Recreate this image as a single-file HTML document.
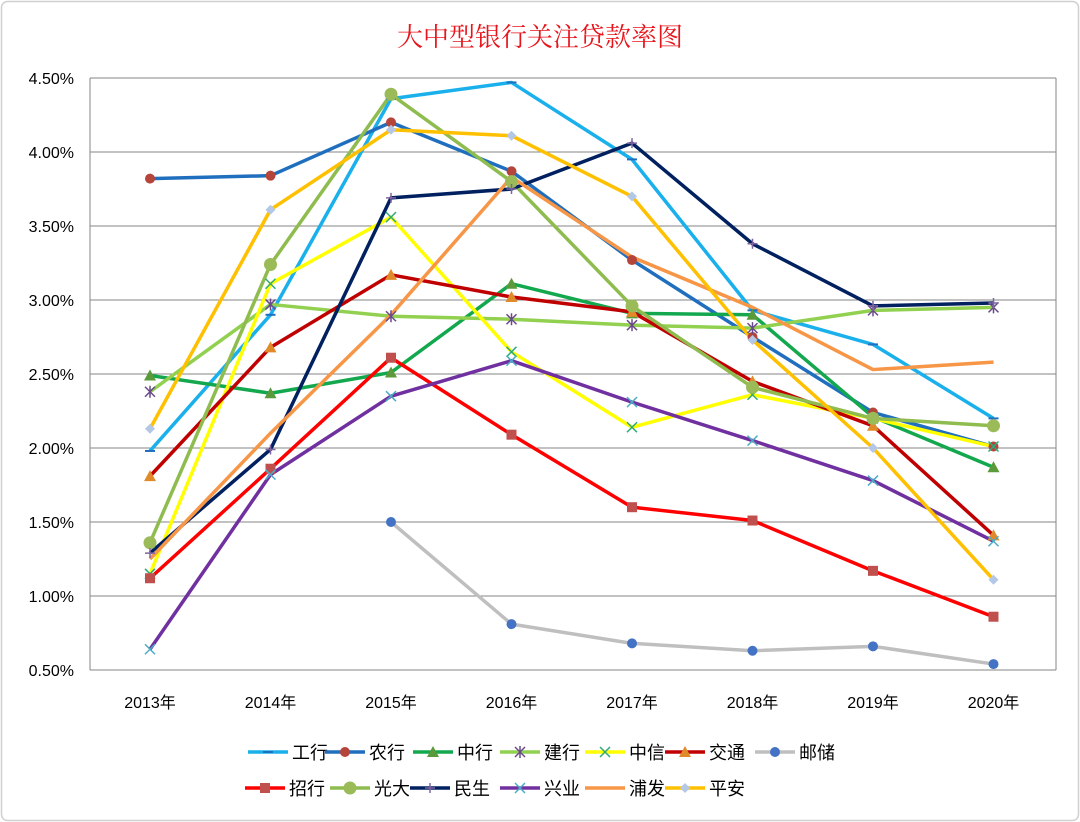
<!DOCTYPE html>
<html><head><meta charset="utf-8">
<style>
html,body{margin:0;padding:0;background:#fff;}
svg{display:block;font-family:"Liberation Sans","Noto Sans CJK SC",sans-serif;}
</style></head>
<body>
<svg id="c" width="1080" height="822" viewBox="0 0 1080 822" xmlns="http://www.w3.org/2000/svg">
<rect x="1.5" y="1.5" width="1077" height="819" rx="6" fill="#fff" stroke="#d0d0d0" stroke-width="1.5"/>
<text x="540" y="46" text-anchor="middle" font-size="26" fill="#e8141b" font-family="'Noto Serif CJK SC','Noto Sans CJK SC',serif">大中型银行关注贷款率图</text>
<g id="grid"></g>
<g id="series"></g>
<g id="legend"></g>
</svg>
<script>
var NS="http://www.w3.org/2000/svg";
function el(t,a,p,txt){var e=document.createElementNS(NS,t);for(var k in a)e.setAttribute(k,a[k]);if(txt!=null)e.textContent=txt;p.appendChild(e);return e;}
var svg=document.getElementById('c');
var grid=document.getElementById('grid'),ser=document.getElementById('series'),leg=document.getElementById('legend');
var X0=90,X1=1056;
function Y(v){return 670-(v-0.5)*148;}
var xs=[150,270.5,391,511.5,632,752.5,873,993.5];
for(var i=0;i<9;i++){var v=0.5+i*0.5,y=Y(v);
 el('line',{x1:X0,x2:X1,y1:y,y2:y,stroke:'#868686','stroke-width':1},grid);
 el('text',{x:74,y:y+6,'text-anchor':'end','font-size':16,fill:'#000'},grid,v.toFixed(2)+'%');}
el('line',{x1:X0,x2:X0,y1:78,y2:670,stroke:'#868686'},grid);
el('line',{x1:X1,x2:X1,y1:78,y2:670,stroke:'#868686'},grid);
for(var i=0;i<8;i++){el('text',{x:xs[i],y:708,'text-anchor':'middle','font-size':16,fill:'#000'},grid,(2013+i)+'年');}
var S=[
['工行','#1ab0ec','dash',[1.98,2.90,4.36,4.47,3.95,2.93,2.70,2.20]],
['农行','#1f6fbe','circ',[3.82,3.84,4.20,3.87,3.27,2.75,2.24,2.01],'#b5443b'],
['中行','#13a84e','tri',[2.49,2.37,2.51,3.11,2.91,2.90,2.21,1.87],'#5a9a3a'],
['建行','#92d050','star',[2.38,2.97,2.89,2.87,2.83,2.81,2.93,2.95],'#6a4a8a'],
['中信','#ffff00','x',[1.15,3.11,3.56,2.65,2.14,2.36,2.20,2.01],'#2eaa7a'],
['交通','#c00000','tri',[1.81,2.68,3.17,3.02,2.92,2.45,2.15,1.41],'#e08a2a'],
['邮储','#bfbfbf','circ',[null,null,1.50,0.81,0.68,0.63,0.66,0.54],'#4472c4'],
['招行','#ff0000','sq',[1.12,1.86,2.61,2.09,1.60,1.51,1.17,0.86],'#c0504d'],
['光大','#8fbc4f','bigc',[1.36,3.24,4.39,3.80,2.96,2.41,2.20,2.15],'#9bbb59'],
['民生','#002060','plus',[1.29,1.99,3.69,3.75,4.06,3.38,2.96,2.98],'#8064a2'],
['兴业','#7030a0','x',[0.64,1.82,2.35,2.59,2.31,2.05,1.78,1.37],'#4bacc6'],
['浦发','#f79646','none',[1.25,2.10,2.90,3.83,3.29,2.95,2.53,2.58]],
['平安','#ffc000','dia',[2.13,3.61,4.15,4.11,3.70,2.73,2.00,1.11],'#b4c7e7']
];
function marker(g,type,x,y,col,mc){mc=mc||col;
 switch(type){
 case 'dash':el('line',{x1:x-5,x2:x+5,y1:y,y2:y,stroke:'#1f6fbe','stroke-width':2},g);break;
 case 'circ':el('circle',{cx:x,cy:y,r:5,fill:mc},g);break;
 case 'bigc':el('circle',{cx:x,cy:y,r:6.5,fill:mc},g);break;
 case 'tri':el('polygon',{points:(x)+','+(y-6)+' '+(x-6)+','+(y+5)+' '+(x+6)+','+(y+5),fill:mc},g);break;
 case 'sq':el('rect',{x:x-5,y:y-5,width:10,height:10,fill:mc},g);break;
 case 'dia':el('polygon',{points:x+','+(y-5)+' '+(x+5)+','+y+' '+x+','+(y+5)+' '+(x-5)+','+y,fill:mc},g);break;
 case 'x':el('path',{d:'M'+(x-5)+' '+(y-5)+'L'+(x+5)+' '+(y+5)+'M'+(x-5)+' '+(y+5)+'L'+(x+5)+' '+(y-5),stroke:mc,'stroke-width':1.5},g);break;
 case 'star':el('path',{d:'M'+(x-5)+' '+(y-5)+'L'+(x+5)+' '+(y+5)+'M'+(x-5)+' '+(y+5)+'L'+(x+5)+' '+(y-5)+'M'+x+' '+(y-6)+'L'+x+' '+(y+6),stroke:mc,'stroke-width':1.5},g);break;
 case 'plus':el('path',{d:'M'+(x-5)+' '+y+'L'+(x+5)+' '+y+'M'+x+' '+(y-5)+'L'+x+' '+(y+5),stroke:mc,'stroke-width':1.5},g);break;
 }}
S.forEach(function(s){
 var pts=[];s[3].forEach(function(v,i){if(v!=null)pts.push([xs[i],Y(v)]);});
 el('polyline',{points:pts.map(function(p){return p.join(',')}).join(' '),fill:'none',stroke:s[1],'stroke-width':3.5,'stroke-linejoin':'round'},ser);
});
S.forEach(function(s){s[3].forEach(function(v,i){if(v!=null)marker(ser,s[2],xs[i],Y(v),s[1],s[4]);});});
var L1=[[248,0],[325,1],[413,2],[500,3],[585,4],[665,5],[755,6]];
var L2=[[245,7],[330,8],[410,9],[500,10],[585,11],[665,12]];
function legRow(arr,y){arr.forEach(function(a){var s=S[a[1]],x=a[0];
 el('line',{x1:x,x2:x+40,y1:y,y2:y,stroke:s[1],'stroke-width':3.5},leg);
 marker(leg,s[2],x+20,y,s[1],s[4]);
 el('text',{x:x+44,y:y+7,'font-size':18,fill:'#000'},leg,s[0]);});}
legRow(L1,752);legRow(L2,788);
</script>
</body></html>
